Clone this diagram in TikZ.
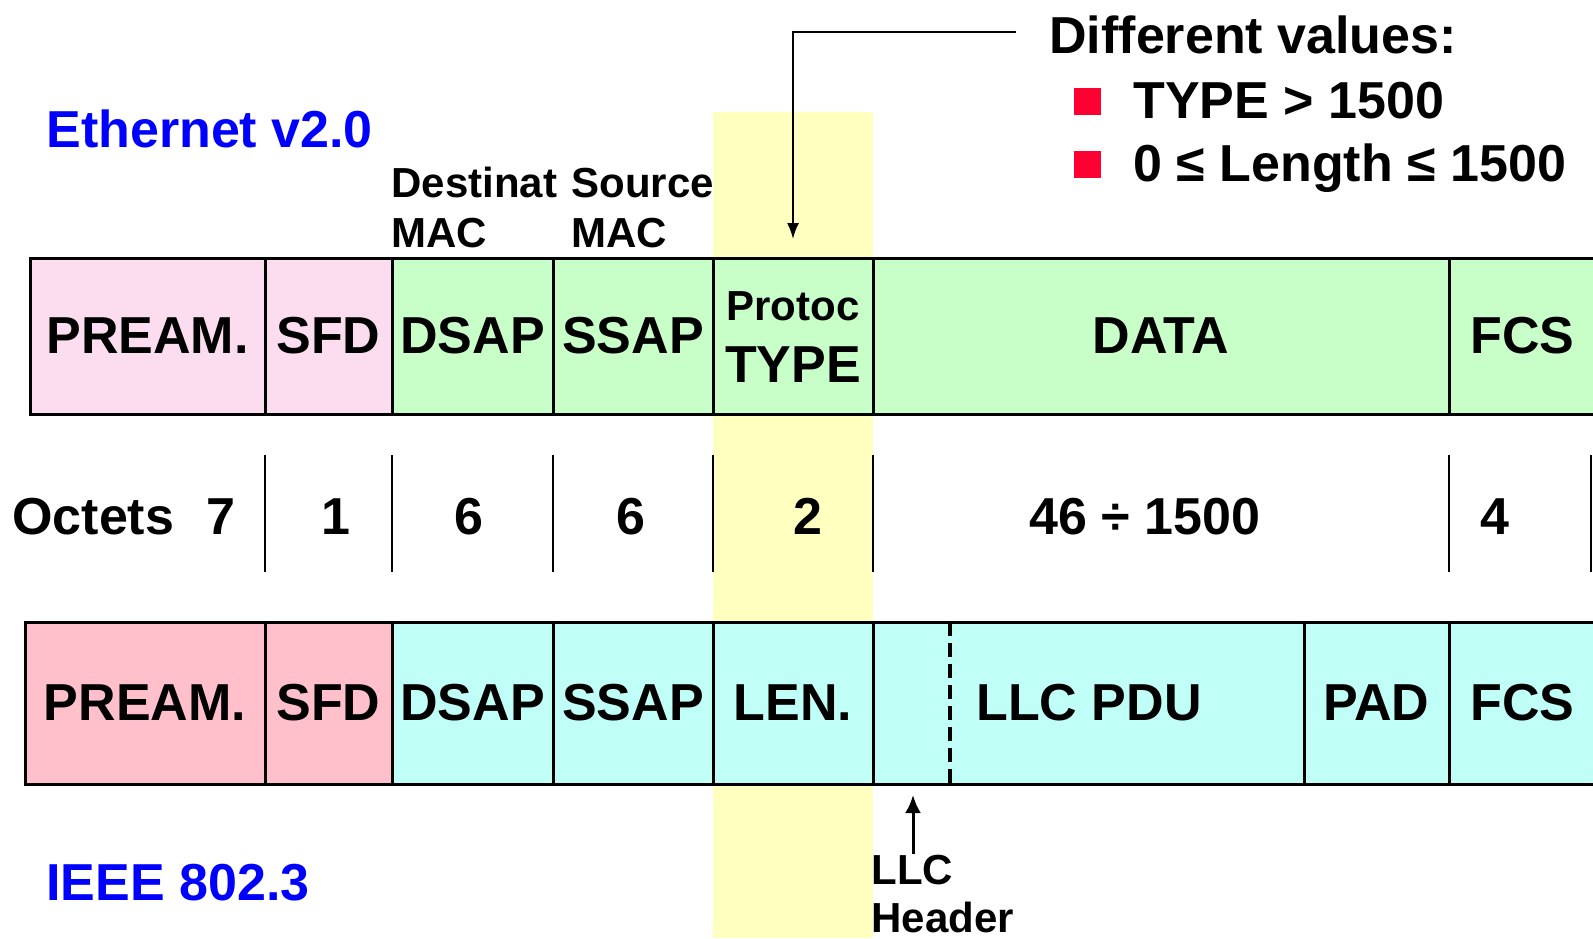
\documentclass[tikz,border=0pt]{standalone}
\usepackage{fontspec}
\setmainfont{Liberation Sans}
\usetikzlibrary{arrows.meta,positioning}
\definecolor{ethpink}{RGB}{252,221,240}
\definecolor{ieeepink}{RGB}{255,192,203}
\definecolor{ethgreen}{RGB}{200,255,200}
\definecolor{ieeecyan}{RGB}{191,255,247}
\definecolor{bandyellow}{RGB}{255,255,191}
\definecolor{bulletred}{RGB}{255,0,51}
\tikzset{>={Latex[width=6pt,length=8pt]}}
\tikzset{field/.style={draw, line width=1.5pt}}
\tikzset{big/.style={font=\bfseries\fontsize{26}{31}\selectfont, inner sep=0pt}}
\tikzset{small/.style={font=\bfseries\fontsize{21}{24.5}\selectfont, inner sep=0pt}}
\tikzset{title/.style={big, text=blue, anchor=base west}}
\tikzset{bullet/.style={fill=bulletred, minimum size=13.5pt, inner sep=0pt}}

\begin{document}
\begin{tikzpicture}[x=0.5pt, y=-0.5pt]
    \useasboundingbox (0,0) rectangle (1593,938);
    \fill[bandyellow] (713,112) rectangle (873,938);

    \node[title] (eth) at (46,147) {Ethernet v2.0};
    \node[title] (ieee) at (46,900) {IEEE 802.3};

    \node[small, anchor=base west] (dst) at (391,197) {Destinat};
    \node[small, anchor=base west] (dstmac) at (391,247) {MAC};
    \node[small, anchor=base west] (src) at (571,197) {Source};
    \node[small, anchor=base west] (srcmac) at (571,247) {MAC};

    \node[big, anchor=base west] (diff) at (1049,53) {Different values:};
    \node[bullet] (b1) at (1087.5,101) {};
    \node[big, anchor=base west] (v1) at (1133,118) {TYPE > 1500};
    \node[bullet] (b2) at (1087.5,164) {};
    \node[big, anchor=base west] (v2) at (1133,181) {0 ≤ Length ≤ 1500};

    \foreach \n/\a/\b/\t/\c in {pre1/30/265/PREAM./ethpink, sfd1/265/392/SFD/ethpink,
      dsap1/392/553/DSAP/ethgreen, ssap1/553/713/SSAP/ethgreen,
      data1/873/1449/DATA/ethgreen, fcs1/1449/1596/FCS/ethgreen}
    {
      \draw[field, fill=\c] (\a,258) rectangle (\b,414);
      \path (\a,258) -- node[big] (\n) {\t} (\b,414);
    }
    \draw[field, fill=ethgreen] (713,258) rectangle (873,414);
    \node[small, anchor=base] (proto) at (793,320) {Protoc};
    \node[big, anchor=base] (type) at (793,382) {TYPE};

    \coordinate (valstart) at (1016,32);
    \coordinate (valtip) at (793,239);
    \draw[->, line width=1pt] (valstart) -| (valtip);

    \foreach \x in {265,392,553,713,873,1449,1591}
    \draw[line width=1pt] (\x,455) -- (\x,572);
    \node[big, anchor=base west] (oct) at (12,534) {Octets};
    \foreach \n/\x/\t in {o7/221/7, o1/336/1, o6a/469/6, o6b/631/6, o2/808/2,
      odata/1145/46 ÷ 1500, o4/1495/4}
    \node[big, anchor=base] (\n) at (\x,534) {\t};

    \foreach \n/\a/\b/\t/\c in {pre2/25/265/PREAM./ieeepink, sfd2/265/392/SFD/ieeepink,
      dsap2/392/553/DSAP/ieeecyan, ssap2/553/713/SSAP/ieeecyan,
      len2/713/873/LEN./ieeecyan, pad2/1304/1449/PAD/ieeecyan,
      fcs2/1449/1596/FCS/ieeecyan}
    {
      \draw[field, fill=\c] (\a,622) rectangle (\b,784);
      \path (\a,622) -- node[big] (\n) {\t} (\b,784);
    }
    \draw[field, fill=ieeecyan] (873,622) rectangle (1304,784);
    \node[big] (pdu) at (1089,703) {LLC PDU};
    \draw[line width=2pt, dash pattern=on 7pt off 3.5pt] (950,622) -- (950,790);

    \node[small, anchor=base west] (llc) at (871,884) {LLC};
    \node[small, anchor=base west] (hdr) at (871,932) {Header};
    \coordinate (hdrtip) at (913,795);
    \draw[-{Latex[width=8pt,length=9pt]}, line width=1.5pt] (llc.north -| hdrtip) -- (hdrtip);
\end{tikzpicture}
\end{document}
